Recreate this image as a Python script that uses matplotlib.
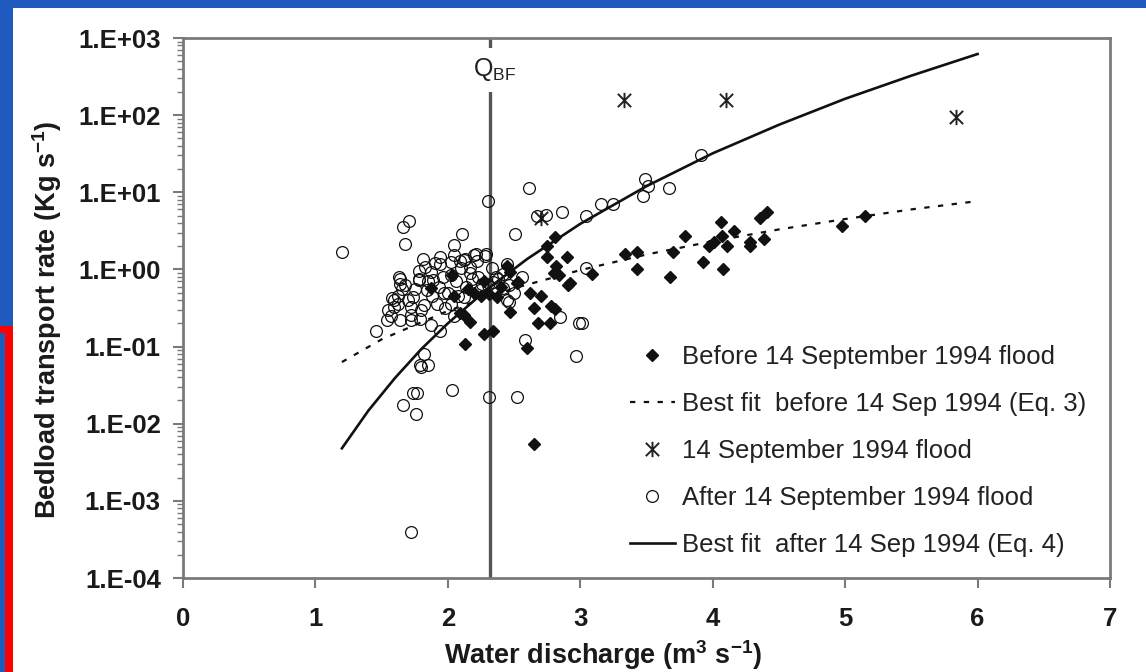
import matplotlib
matplotlib.use("Agg")
import matplotlib.pyplot as plt
from matplotlib.patches import Rectangle
from matplotlib.path import Path
from matplotlib.ticker import FixedLocator, FixedFormatter, LogLocator, NullFormatter

plt.rcParams['font.family'] = ['Liberation Sans', 'DejaVu Sans']
plt.rcParams['mathtext.default'] = 'regular'

# before 14 Sep 1994 flood (diamonds)
before_q = [3.09, 3.34, 3.43, 3.43, 3.68, 3.70, 3.79, 3.93, 3.97, 4.01, 4.07, 4.11,
            4.06, 4.16, 4.08, 4.28, 4.28, 4.39, 4.36, 4.41, 4.98, 5.15,
            2.81, 2.75, 2.90, 2.75, 2.82, 2.80, 2.84, 2.91, 2.45, 2.47, 2.53, 2.62,
            2.70, 2.65, 2.78, 2.81, 2.68, 2.77, 2.47, 2.37, 2.17, 2.09, 2.12, 2.13,
            2.27, 2.34, 2.60, 2.65, 2.92, 2.52, 2.03, 1.87, 2.25, 2.31, 2.20, 2.40,
            2.15, 2.27, 2.05]
before_y = [0.87, 1.6, 1.69, 1.0, 0.79, 1.69, 2.72, 1.23, 2.02, 2.29, 2.72, 2.02,
            4.06, 3.16, 1.02, 2.29, 2.02, 2.45, 4.7, 5.6, 3.67, 4.95,
            2.6, 2.02, 1.46, 1.44, 1.12, 0.89, 0.84, 0.62, 1.12, 0.93, 0.69, 0.49,
            0.45, 0.32, 0.34, 0.31, 0.2, 0.2, 0.28, 0.44, 0.21, 0.27, 0.26, 0.107,
            0.145, 0.16, 0.095, 0.0054, 0.66, 0.66, 0.84, 0.57, 0.45, 0.48, 0.5, 0.6,
            0.55, 0.7, 0.45]

# 14 Sep 1994 flood (stars)
flood_q = [2.70, 3.33, 4.10, 5.84]
flood_y = [4.6, 158, 158, 95]

# after 14 Sep 1994 flood (circles)
after_q = [1.20, 1.66, 1.71, 1.68, 2.11, 2.05, 2.51, 2.30, 1.81, 1.94, 2.05, 2.21,
           2.28, 2.12, 1.83, 2.02, 2.17, 2.23, 1.64, 1.78, 1.89, 1.65, 1.58, 1.74,
           1.84, 1.97, 2.12, 1.59, 1.72, 1.92, 2.02, 1.54, 1.64, 1.72, 1.79, 1.87,
           1.46, 1.94, 2.45, 2.36, 2.42, 2.58, 1.82, 1.85, 1.79, 1.74, 1.77, 1.66,
           1.76, 2.03, 2.31, 2.52, 1.72, 2.97, 2.85, 2.99, 3.01, 1.80, 2.61, 2.67,
           2.74, 2.86, 3.04, 3.16, 3.25, 3.04, 2.29, 2.56, 2.45, 2.46, 3.49, 3.51,
           3.47, 3.67, 3.91, 1.63, 1.64, 1.78, 1.87, 1.94, 2.09, 1.59, 2.13, 2.20,
           2.24, 2.17, 2.34, 2.42,
           1.55, 1.62, 1.68, 1.70, 1.75, 1.78, 1.82, 1.85, 1.88, 1.90, 1.93, 1.96,
           2.00, 2.02, 2.06, 2.08, 2.10, 2.14, 2.18, 2.22, 2.26, 2.30, 2.33, 2.38,
           2.46, 2.50, 1.72, 1.80, 1.98, 2.05, 1.62, 1.57]
after_y = [1.67, 3.56, 4.27, 2.14, 2.84, 2.07, 2.84, 7.7, 1.38, 1.45, 1.52, 1.6,
           1.5, 1.31, 1.08, 0.84, 0.89, 0.80, 0.76, 0.72, 0.72, 0.565, 0.42, 0.44,
           0.54, 0.49, 0.44, 0.33, 0.33, 0.36, 0.36, 0.22, 0.22, 0.22, 0.23, 0.19,
           0.16, 0.16, 0.40, 0.80, 0.57, 0.12, 0.081, 0.057, 0.057, 0.025, 0.025, 0.0174,
           0.0135, 0.0275, 0.022, 0.022, 0.00039, 0.075, 0.24, 0.20, 0.20, 0.054, 11.5, 5.0,
           5.1, 5.6, 5.0, 7.0, 7.0, 1.03, 1.6, 0.80, 1.19, 0.38, 14.8, 12.0,
           9.0, 11.5, 30.0, 0.80, 0.65, 0.76, 0.92, 1.17, 1.3, 0.40, 1.38, 1.52,
           0.54, 1.07, 0.69, 0.87,
           0.30, 0.45, 0.62, 0.40, 0.55, 0.95, 0.35, 0.70, 0.45, 1.2, 0.60, 0.80,
           0.50, 1.25, 0.70, 0.45, 1.05, 0.60, 0.75, 1.30, 0.65, 0.62, 1.05, 0.75,
           0.62, 0.50, 0.26, 0.30, 0.32, 0.25, 0.36, 0.25]

# best fit curves
fit_before_q = [1.2, 1.5, 2.0, 2.5, 3.0, 3.5, 4.0, 4.5, 5.0, 5.5, 5.95]
fit_before_y = [0.063, 0.124, 0.29, 0.57, 0.98, 1.56, 2.32, 3.3, 4.5, 6.0, 7.5]
fit_after_q = [1.2, 1.4, 1.6, 1.8, 2.0, 2.3, 2.6, 3.0, 3.5, 4.0, 4.5, 5.0, 5.5, 6.0]
fit_after_y = [0.0048, 0.0148, 0.039, 0.093, 0.20, 0.56, 1.37, 3.9, 12.0, 32.0, 75.0,
               163.0, 325.0, 620.0]

q_bf = 2.32
x_ticks = [0, 1, 2, 3, 4, 5, 6, 7]
y_ticks = [1e-4, 1e-3, 1e-2, 1e-1, 1e0, 1e1, 1e2, 1e3]
y_labels = ['1.E-04', '1.E-03', '1.E-02', '1.E-01', '1.E+00', '1.E+01', '1.E+02', '1.E+03']

# star marker: an X crossed by a vertical bar
star = Path([(-1, -1), (1, 1), (-1, 1), (1, -1), (0, -1.15), (0, 1.15)],
            [Path.MOVETO, Path.LINETO, Path.MOVETO, Path.LINETO, Path.MOVETO, Path.LINETO])

W, H = 1146, 672
fig = plt.figure(figsize=(W / 100, H / 100), dpi=100)
fig.patch.set_facecolor('white')
blue = '#1f5bbf'
fig.patches.append(Rectangle((0, 1 - 8 / H), 1, 8 / H, transform=fig.transFigure,
                             facecolor=blue, edgecolor='none', zorder=0))
fig.patches.append(Rectangle((0, 0), 13 / W, 1, transform=fig.transFigure,
                             facecolor=blue, edgecolor='none', zorder=0))
fig.patches.append(Rectangle((0, 0), 13 / W, (H - 326) / H, transform=fig.transFigure,
                             facecolor='#ff0000', edgecolor='none', zorder=1))
fig.patches.append(Rectangle((0, 0), 5 / W, (H - 333) / H, transform=fig.transFigure,
                             facecolor=blue, edgecolor='none', zorder=2))

ax = fig.add_axes([183 / W, 94 / H, 927 / W, 540 / H])
ink = '#111111'
grey = '#7a7a7a'

ax.axvline(q_bf, color='#555555', lw=2.4, zorder=1)
ax.text(q_bf + 0.03, 385, 'Q$_{BF}$', fontsize=18, ha='center', va='center', color='#222222',
        bbox=dict(facecolor='white', edgecolor='none', pad=6), zorder=2)

h1, = ax.plot(before_q, before_y, ls='none', marker='D', ms=6.5, color=ink, zorder=4,
              label='Before 14 September 1994 flood')
h2, = ax.plot(fit_before_q, fit_before_y, ls=(0, (2.4, 3.8)), lw=1.6, color=ink, zorder=3,
              label='Best fit  before 14 Sep 1994 (Eq. 3)')
h3, = ax.plot(flood_q, flood_y, ls='none', marker=star, ms=11, mew=1.4, color='#222222', zorder=4,
              label='14 September 1994 flood')
h4, = ax.plot(after_q, after_y, ls='none', marker='o', ms=8.5, mfc='none', mec=ink, mew=0.9,
              zorder=4, label='After 14 September 1994 flood')
h5, = ax.plot(fit_after_q, fit_after_y, ls='-', lw=1.9, color=ink, zorder=3,
              label='Best fit  after 14 Sep 1994 (Eq. 4)')

ax.set_yscale('log')
ax.set_xlim(0, 7)
ax.set_ylim(1e-4, 1e3)
ax.xaxis.set_major_locator(FixedLocator(x_ticks))
ax.yaxis.set_major_locator(FixedLocator(y_ticks))
ax.yaxis.set_major_formatter(FixedFormatter(y_labels))
ax.yaxis.set_minor_locator(LogLocator(base=10, subs=range(2, 10)))
ax.yaxis.set_minor_formatter(NullFormatter())
ax.tick_params(axis='both', which='major', direction='out', color=grey, width=1.5,
               labelsize=18.5, labelcolor='#1a1a1a')
ax.tick_params(axis='y', which='major', length=7, pad=9)
ax.tick_params(axis='y', which='minor', direction='out', length=4.5, width=1, color=grey)
ax.tick_params(axis='x', which='major', length=7, pad=14)
for lab in ax.get_xticklabels() + ax.get_yticklabels():
    lab.set_fontweight('bold')
for sp in ax.spines.values():
    sp.set_color(grey)
    sp.set_linewidth(2)

ax.set_xlabel('Water discharge (m$^3$ s$^{-1}$)', fontsize=19.5, fontweight='bold', color='#1a1a1a')
ax.xaxis.set_label_coords(0.453, -0.112)
ax.set_ylabel('Bedload transport rate (Kg s$^{-1}$)', fontsize=19.5, fontweight='bold', color='#1a1a1a')
ax.yaxis.set_label_coords(-0.128, 0.478)

ax.legend(handles=[h1, h2, h3, h4, h5], loc='upper left', bbox_to_anchor=(0.468, 0.455),
          frameon=False, fontsize=18.5, borderpad=0, handlelength=1.75, handletextpad=0.3,
          labelspacing=0.89, markerscale=1.0, labelcolor='#222222')

fig.savefig('out.png', dpi=100)
